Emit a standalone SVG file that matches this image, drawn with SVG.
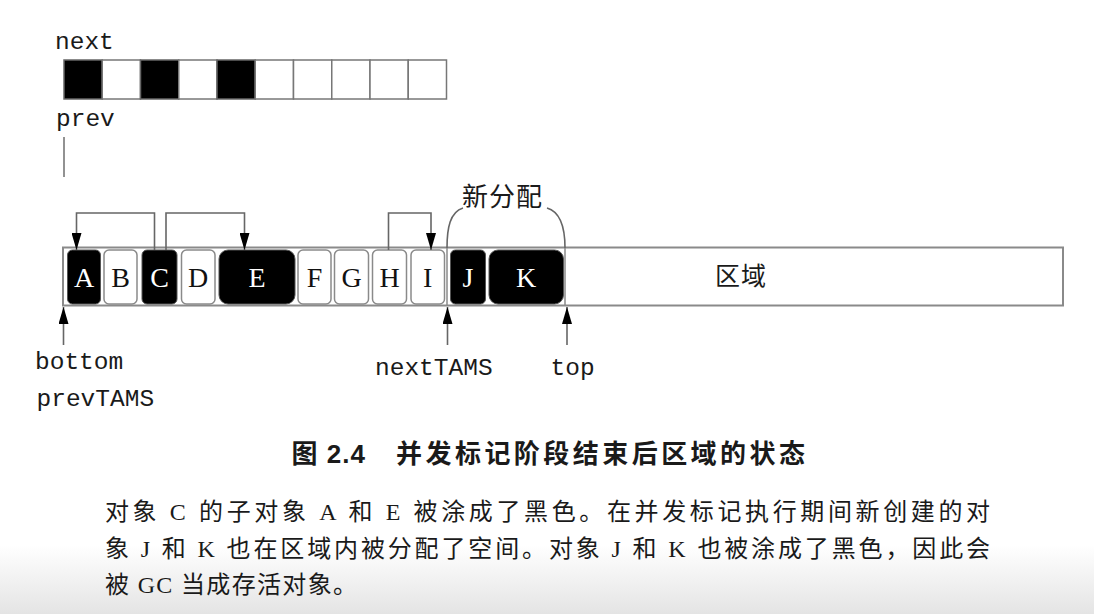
<svg xmlns="http://www.w3.org/2000/svg" width="1094" height="614" viewBox="0 0 1094 614">
<style>
.mono{font-family:"Liberation Mono","DejaVu Sans Mono",monospace;font-size:24.5px;fill:#1a1a1a}
.cell-b{fill:#000;stroke:#555;stroke-width:1}
.cell-w{fill:#fff;stroke:#8a8a8a;stroke-width:1.5}
.lt{font-family:"Liberation Serif","Times New Roman",serif;font-size:28px;text-anchor:middle}
.lt-w{fill:#fff}
.lt-b{fill:#111}
.bit-b{fill:#000;stroke:#666;stroke-width:1.5}
.bit-w{fill:#fff;stroke:#777;stroke-width:1.5}
.conn{fill:none;stroke:#666;stroke-width:1.6}
.body{font-family:"Liberation Serif","Noto Sans CJK SC",serif;font-size:24px;fill:#1a1a1a}
.cap{font-family:"Liberation Sans","Noto Sans CJK SC",sans-serif;font-size:26px;font-weight:bold;fill:#1a1a1a}
.cjk{font-family:"Noto Sans CJK SC",sans-serif;fill:#1a1a1a}
</style>
<defs>
<marker id="arr" viewBox="0 0 17 10" refX="17" refY="5" markerWidth="17" markerHeight="10" markerUnits="userSpaceOnUse" orient="auto">
<polygon points="0,0 17,5 0,10" fill="#000"/>
</marker>
<linearGradient id="fade" x1="0" y1="0" x2="0" y2="1">
<stop offset="0" stop-color="#e4e4e4" stop-opacity="0"/>
<stop offset="1" stop-color="#e4e4e4" stop-opacity="1"/>
</linearGradient>
</defs>
<rect width="1094" height="614" fill="#fff"/>
<rect x="0" y="545" width="1094" height="69" fill="url(#fade)"/>

<g id="bitmap">
<text class="mono" x="55" y="49">next</text>
<rect class="bit-b" x="64" y="60" width="38.25" height="39"/>
<rect class="bit-w" x="102.25" y="60" width="38.25" height="39"/>
<rect class="bit-b" x="140.5" y="60" width="38.25" height="39"/>
<rect class="bit-w" x="178.75" y="60" width="38.25" height="39"/>
<rect class="bit-b" x="217" y="60" width="38.25" height="39"/>
<rect class="bit-w" x="255.25" y="60" width="38.25" height="39"/>
<rect class="bit-w" x="293.5" y="60" width="38.25" height="39"/>
<rect class="bit-w" x="331.75" y="60" width="38.25" height="39"/>
<rect class="bit-w" x="370" y="60" width="38.25" height="39"/>
<rect class="bit-w" x="408.25" y="60" width="38.25" height="39"/>
<text class="mono" x="56" y="126">prev</text>
<line x1="64" y1="137" x2="64" y2="177" stroke="#777" stroke-width="1.6"/>
</g>

<g id="region">
<rect x="63" y="247.5" width="1000" height="58" fill="#fff" stroke="#8a8a8a" stroke-width="2"/>
<line x1="447" y1="247.5" x2="447" y2="305.5" stroke="#8a8a8a" stroke-width="1.5"/>
<line x1="565" y1="247.5" x2="565" y2="305.5" stroke="#8a8a8a" stroke-width="1.5"/>
<text class="cjk" x="715" y="285" font-size="25" textLength="51">区域</text>
</g>

<g id="node-A"><rect class="cell-b" x="67.5" y="250" width="33" height="54" rx="5"/><text class="lt lt-w" x="84" y="287">A</text></g>
<g id="node-B"><rect class="cell-w" x="104" y="250" width="33" height="54" rx="5"/><text class="lt lt-b" x="120.5" y="287">B</text></g>
<g id="node-C"><rect class="cell-b" x="142" y="250" width="35" height="54" rx="5"/><text class="lt lt-w" x="159.5" y="287">C</text></g>
<g id="node-D"><rect class="cell-w" x="181.5" y="250" width="33.5" height="54" rx="5"/><text class="lt lt-b" x="198" y="287">D</text></g>
<g id="node-E"><rect class="cell-b" x="219" y="250" width="76" height="54" rx="9"/><text class="lt lt-w" x="257" y="287">E</text></g>
<g id="node-F"><rect class="cell-w" x="298" y="250" width="33" height="54" rx="5"/><text class="lt lt-b" x="314.5" y="287">F</text></g>
<g id="node-G"><rect class="cell-w" x="334.5" y="250" width="34" height="54" rx="5"/><text class="lt lt-b" x="351.5" y="287">G</text></g>
<g id="node-H"><rect class="cell-w" x="372.5" y="250" width="34" height="54" rx="5"/><text class="lt lt-b" x="389.5" y="287">H</text></g>
<g id="node-I"><rect class="cell-w" x="411" y="250" width="33.5" height="54" rx="5"/><text class="lt lt-b" x="427.7" y="287">I</text></g>
<g id="node-J"><rect class="cell-b" x="450.5" y="250" width="35" height="54" rx="5"/><text class="lt lt-w" x="468" y="287">J</text></g>
<g id="node-K"><rect class="cell-b" x="489" y="250" width="74.5" height="54" rx="9"/><text class="lt lt-w" x="526" y="287">K</text></g>

<g id="new-alloc">
<path class="conn" d="M447,248 C447,228 450,212 463,208"/>
<path class="conn" d="M565,248 C565,228 561,212 547,208"/>
<text class="cjk" x="462" y="206" font-size="26" textLength="80">新分配</text>
</g>

<g id="connectors">
<path class="conn" d="M154.5,250 V213 H76.5 V250" marker-end="url(#arr)"/>
<path class="conn" d="M166,250 V213 H244.5 V250" marker-end="url(#arr)"/>
<path class="conn" d="M388.5,250 V213 H431 V250" marker-end="url(#arr)"/>
<path class="conn" d="M63.5,345 V307" marker-end="url(#arr)"/>
<path class="conn" d="M447.5,345 V307" marker-end="url(#arr)"/>
<path class="conn" d="M567,345 V307" marker-end="url(#arr)"/>
</g>

<g id="pointer-labels">
<text class="mono" x="35" y="369">bottom</text>
<text class="mono" x="36.5" y="406">prevTAMS</text>
<text class="mono" x="375" y="375">nextTAMS</text>
<text class="mono" x="550.5" y="375">top</text>
</g>

<g id="caption">
<text class="cap" x="291.5" y="463" textLength="73.5">图 2.4</text>
<text class="cap" x="396" y="463" textLength="409">并发标记阶段结束后区域的状态</text>
</g>

<g id="body-text">
<text class="body" x="105" y="520" textLength="885" lengthAdjust="spacing">对象 C 的子对象 A 和 E 被涂成了黑色。在并发标记执行期间新创建的对</text>
<text class="body" x="105" y="557" textLength="885" lengthAdjust="spacing">象 J 和 K 也在区域内被分配了空间。对象 J 和 K 也被涂成了黑色，因此会</text>
<text class="body" x="105" y="593" textLength="252" lengthAdjust="spacing">被 GC 当成存活对象。</text>
</g>
</svg>
